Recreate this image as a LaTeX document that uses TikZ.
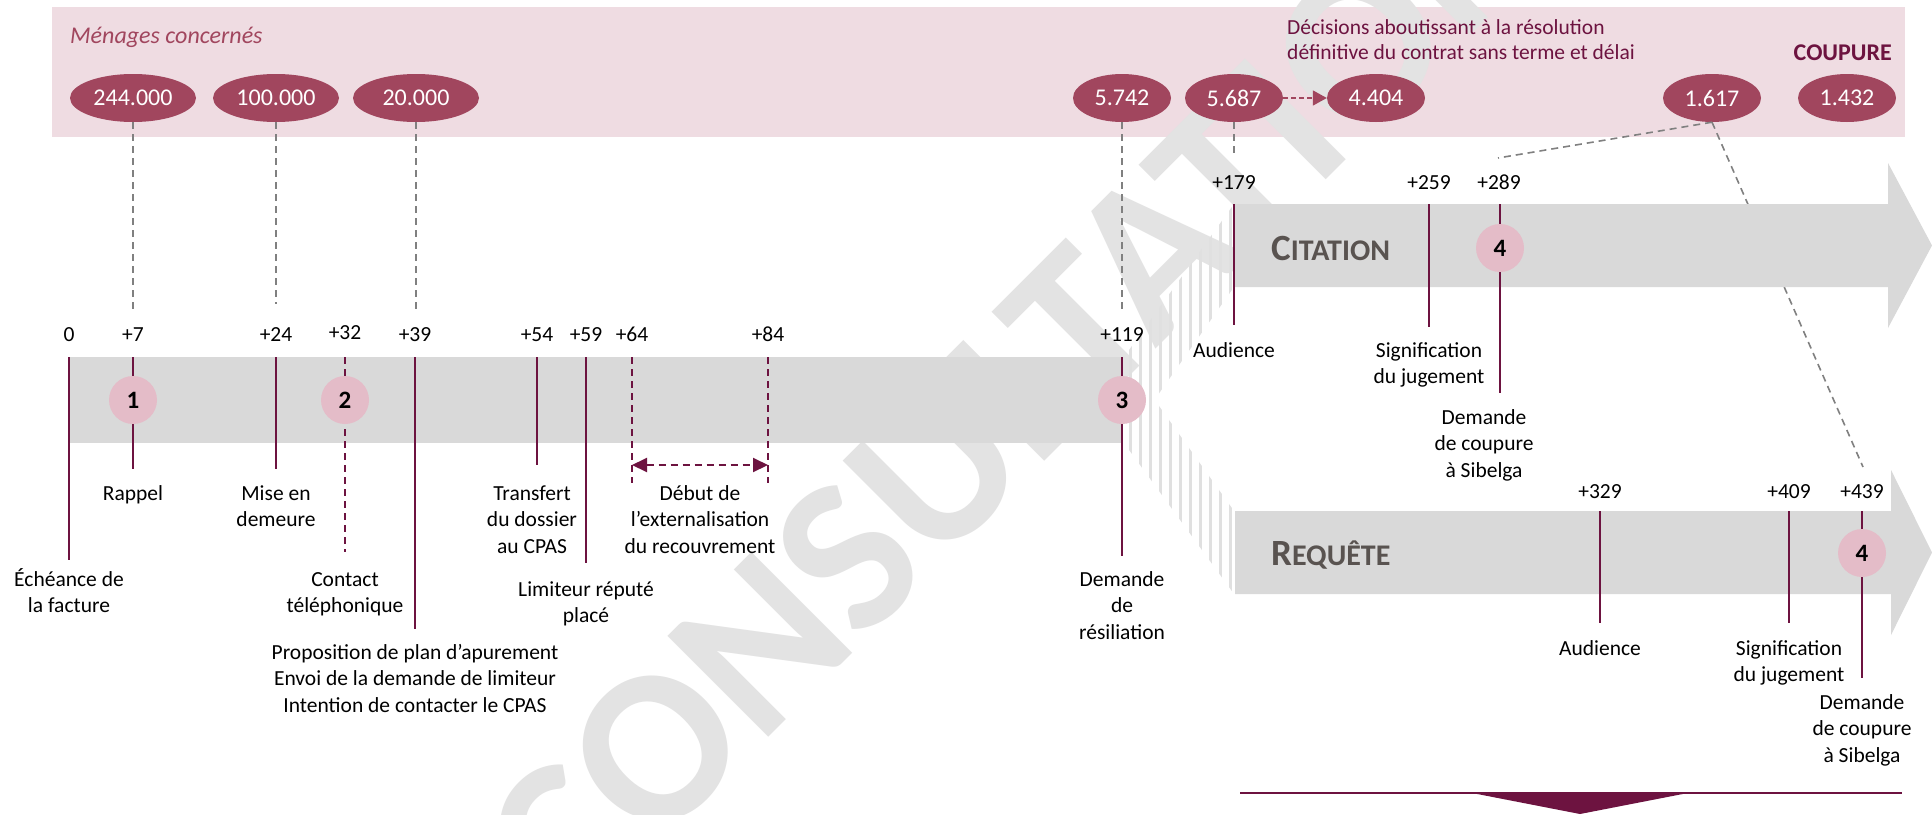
\documentclass[tikz,border=0pt]{standalone}
\usepackage{fontspec}
\setmainfont{Carlito}
\usetikzlibrary{arrows.meta,shapes.geometric}

\definecolor{bandpink}{HTML}{EFDCE2}
\definecolor{mauve}{HTML}{A1465E}
\definecolor{badgepink}{HTML}{E4BCC8}
\definecolor{bargray}{HTML}{D9D9D9}
\definecolor{stripegray}{HTML}{E0E0E0}
\definecolor{maroon}{HTML}{6D1340}
\definecolor{linkgray}{HTML}{808080}
\definecolor{titlegray}{HTML}{595350}
\definecolor{wmgray}{HTML}{E3E3E3}

\begin{document}
\begin{tikzpicture}[x=1pt,y=-1pt,
  lbl/.style={font=\fontsize{21.5}{26.5}\selectfont, align=center, inner sep=0pt, anchor=base, text=black},
  ellbase/.style={ellipse, fill=mauve, text=white, font=\fontsize{24}{28}\selectfont, minimum height=48pt, inner sep=0pt},
  ellwide/.style={ellbase, minimum width=126pt},
  ellnarrow/.style={ellbase, minimum width=98pt},
  badge/.style={circle, fill=badgepink, minimum size=48pt, inner sep=0pt, font=\fontsize{25}{28}\selectfont\bfseries},
  tickline/.style={draw=maroon, line width=2pt},
  dtickline/.style={tickline, dash pattern=on 7pt off 5pt},
  link/.style={draw=linkgray, line width=1.6pt, dash pattern=on 7pt off 5pt},
  bigtitle/.style={anchor=base west, inner sep=0pt, text=titlegray, font=\bfseries},
]
\useasboundingbox (0,0) rectangle (1932,814);
\clip (0,0) rectangle (1932,814);
\fill[white] (0,0) rectangle (1932,814);

% header band with household counts
\fill[bandpink] (52,7) rectangle (1905,137);

% watermark
\node[rotate=45, text=wmgray, inner sep=0pt, font=\fontsize{220}{220}\selectfont\bfseries] (wmark) at (1018,387) {CONSULTATION};

% ellipses with counts
\node[ellwide] (e244) at (133,98) {244.000};
\node[ellwide] (e100) at (276,98) {100.000};
\node[ellwide] (e20) at (416,98) {20.000};
\node[ellnarrow] (e5742) at (1122,98) {5.742};
\node[ellnarrow] (e5687) at (1234,98) {5.687};
\node[ellnarrow] (e4404) at (1376,98) {4.404};
\node[ellnarrow] (e1617) at (1712,98) {1.617};
\node[ellnarrow] (e1432) at (1847,98) {1.432};

\node[anchor=base west, inner sep=0pt, text=mauve, font=\fontsize{24}{28}\selectfont\itshape] (tmen) at (70,43) {Ménages concernés};
\node[anchor=base west, inner sep=0pt, align=left, text=maroon, font=\fontsize{21.5}{25.5}\selectfont] (tdec) at (1287,59.5) {Décisions aboutissant à la résolution\\définitive du contrat sans terme et délai};
\node[anchor=base east, inner sep=0pt, text=maroon, font=\fontsize{24}{28}\selectfont\bfseries] (tcoup) at (1892,60) {COUPURE};

\draw[mauve, line width=1.6pt, dash pattern=on 5pt off 3pt, -{Triangle[length=14pt,width=15pt]}] (e5687.east) -- (e4404.west);

% dashed links from counts to the time line
\coordinate (k7) at (133,312);
\coordinate (k24) at (276,304);
\coordinate (k39) at (416,312);
\coordinate (k119) at (1122,312);
\coordinate (k179) at (1234,155);
\coordinate (k289) at (1498,158);
\coordinate (k439) at (1863,467);
\draw[link] (e244.south) -- (k7);
\draw[link] (e100.south) -- (k24);
\draw[link] (e20.south) -- (k39);
\draw[link] (e5742.south) -- (k119);
\draw[link] (e5687.south) -- (k179);
\draw[link] (e1617.south) -- (k289);
\draw[link] (e1617.south) -- (k439);

% bars
\fill[bargray] (69,357) rectangle (1122,443);
\fill[bargray] (1234,204) -- (1888,204) -- (1888,163) -- (1932,245.5) -- (1888,328) -- (1888,287) -- (1234,287) -- cycle;
\fill[bargray] (1235,511) -- (1891,511) -- (1891,470) -- (1932,552.5) -- (1891,635) -- (1891,594) -- (1235,594) -- cycle;

% striped fans joining the main bar to both branches
\begin{scope}
\clip (1124,357) -- (1234,204) -- (1234,287) -- (1124,443) -- cycle;
\foreach \x in {1130,1140,...,1230} \fill[stripegray] (\x-1.5,150) rectangle (\x+1.5,650);
\end{scope}
\begin{scope}
\clip (1124,357) -- (1234,511) -- (1234,594) -- (1124,443) -- cycle;
\foreach \x in {1130,1140,...,1230} \fill[stripegray] (\x-1.5,150) rectangle (\x+1.5,650);
\end{scope}

\node[bigtitle] (tcit) at (1271,260) {{\fontsize{37}{40}\selectfont C}{\fontsize{30}{34}\selectfont ITATION}};
\node[bigtitle] (treq) at (1271,565) {{\fontsize{37}{40}\selectfont R}{\fontsize{30}{34}\selectfont EQUÊTE}};

% main time line ticks
\foreach \n/\x/\yb/\sty in {0/69/560/tickline, 7/133/469/tickline, 24/276/469/tickline, 32/345/552/dtickline, 39/415/629/tickline, 54/537/465/tickline, 59/586/563/tickline, 64/632/483/dtickline, 84/768/483/dtickline, 119/1122/556/tickline}{
  \coordinate (m\n a) at (\x,357);
  \coordinate (m\n b) at (\x,\yb);
  \draw[\sty] (m\n a) -- (m\n b);
}
% citation ticks
\foreach \n/\x/\yb in {179/1234/325, 259/1429/327, 289/1500/393}{
  \coordinate (c\n a) at (\x,204);
  \coordinate (c\n b) at (\x,\yb);
  \draw[tickline] (c\n a) -- (c\n b);
}
% request ticks
\foreach \n/\x/\yb in {329/1600/623, 409/1789/623, 439/1862/678}{
  \coordinate (r\n a) at (\x,511);
  \coordinate (r\n b) at (\x,\yb);
  \draw[tickline] (r\n a) -- (r\n b);
}

% externalisation interval
\coordinate (a64) at (632,465);
\coordinate (a84) at (768,465);
\draw[maroon, line width=2pt, dash pattern=on 7pt off 5pt, {Triangle[length=15pt,width=14pt]}-{Triangle[length=15pt,width=14pt]}] (a64) -- (a84);

% numbered steps
\node[badge] (b1) at (133,400) {1};
\node[badge] (b2) at (345,400) {2};
\node[badge] (b3) at (1122,400) {3};
\node[badge] (b4c) at (1500,248) {4};
\node[badge] (b4r) at (1862,553) {4};

% day labels
\foreach \n/\x/\yy/\t in {d0/69/341/0, d7/133/341/+7, d24/276/341/+24, d32/345/339/+32, d39/415/341/+39, d54/537/341/+54, d59/586/341/+59, d64/632/341/+64, d84/768/341/+84, d119/1122/341/+119, d179/1234/189/+179, d259/1429/189/+259, d289/1499/189/+289, d329/1600/498/+329, d409/1789/498/+409, d439/1862/498/+439}{
  \node[lbl] (\n) at (\x,\yy) {\t};
}

% step descriptions (anchored on the baseline of their last line)
\node[lbl] (tech) at (69,612.5) {Échéance de\\la facture};
\node[lbl] (trap) at (133,500) {Rappel};
\node[lbl] (tmise) at (276,526.5) {Mise en\\demeure};
\node[lbl] (tcont) at (345,612.5) {Contact\\téléphonique};
\node[lbl] (tprop) at (415,712) {Proposition de plan d’apurement\\Envoi de la demande de limiteur\\Intention de contacter le CPAS};
\node[lbl] (ttrans) at (532,553) {Transfert\\du dossier\\au CPAS};
\node[lbl] (tlim) at (586,622.5) {Limiteur réputé\\placé};
\node[lbl] (tdeb) at (700,553) {Début de\\l’externalisation\\du recouvrement};
\node[lbl] (tres) at (1122,639) {Demande\\de\\résiliation};

\node[lbl] (caud) at (1234,357) {Audience};
\node[lbl] (csig) at (1429,383.5) {Signification\\du jugement};
\node[lbl] (cdem) at (1484,477) {Demande\\de coupure\\à Sibelga};

\node[lbl] (raud) at (1600,655) {Audience};
\node[lbl] (rsig) at (1789,681.5) {Signification\\du jugement};
\node[lbl] (rdem) at (1862,762) {Demande\\de coupure\\à Sibelga};

% bottom marker
\coordinate (bl) at (1240,793);
\coordinate (br) at (1902,793);
\draw[maroon, line width=2pt] (bl) -- (br);
\fill[maroon] (1467,792) -- (1693,792) -- (1580,814) -- cycle;
\end{tikzpicture}
\end{document}
